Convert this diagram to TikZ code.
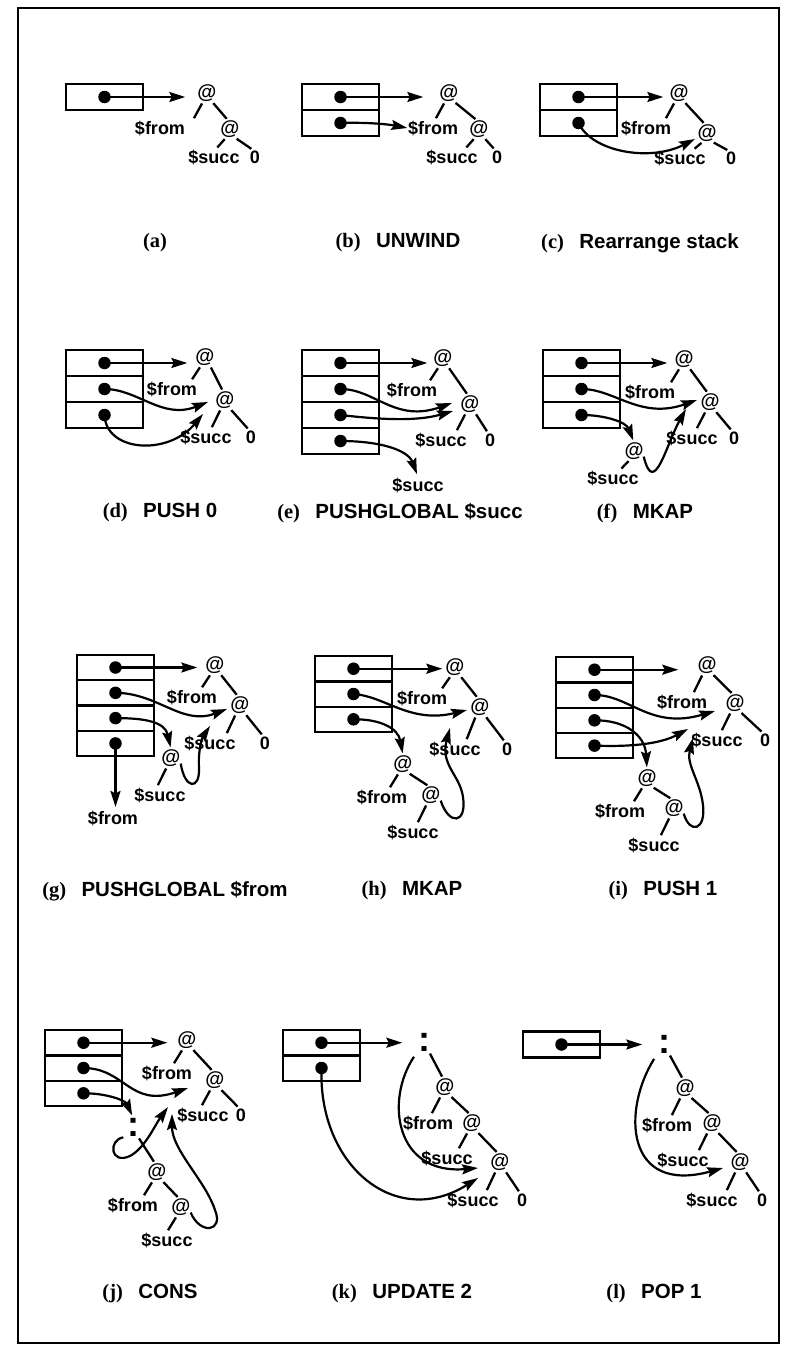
\documentclass[tikz,border=0pt]{standalone}
\usepackage{fontspec}
\setmainfont{Liberation Sans}
\newfontfamily\capserif{Liberation Serif}
\usetikzlibrary{arrows.meta,calc}
\newcommand\tlab{\fontsize{18}{20}\selectfont\bfseries}
\newcommand\tat{\fontsize{19.5}{20}\selectfont\bfseries}
\newcommand\tcap{\fontsize{20.5}{22}\selectfont\bfseries}
\newcommand\tcons{\fontsize{36}{36}\selectfont\bfseries}
\newcommand\TreeL[2]{\draw[tl] ($(#1.south)+(-4,0)$) -- ($(#2.north -| #1)+(-14,0)$);}
\newcommand\TreeR[2]{\draw[tl] ($(#1.south)+(5,0)$) -- ($(#2.north)+(-2,0)$);}
\newcommand\Cap[2]{{\capserif(#1)}\hspace{0.75em}#2}
\begin{document}
\begin{tikzpicture}[x=1pt,y=-1pt,
  lab/.style={font=\tlab, inner sep=0.5pt},
  atn/.style={font=\tat, inner sep=0pt},
  cons/.style={font=\tcons, inner sep=0.5pt},
  capn/.style={font=\tcap, inner sep=0pt},
  cell/.style={draw, line width=2.3pt, minimum width=77pt, minimum height=26pt, inner sep=0pt},
  cellb/.style={cell, minimum height=25.3pt},
  dotn/.style={circle, fill, inner sep=0pt, minimum size=12.5pt},
  ptr/.style={line width=2.2pt, -{Stealth[length=16pt,width=10pt,inset=2.5pt]}},
  tl/.style={line width=2.3pt, shorten <=2pt, shorten >=2pt}]
\useasboundingbox (0,0) rectangle (794,1349);
\draw[line width=2.3pt] (18,8) rectangle (779,1343);

% ---------- (a)
\node[cell] (ac1) at (104.5,97) {};
\node[dotn] (ad1) at (ac1) {};
\node[atn] (aA1) at (207,93) {@};
\node[lab] (aF) at (160,128) {\$from};
\node[atn] (aA2) at (230,129) {@};
\node[lab] (aS) at (214,157) {\$succ};
\node[lab] (aZ) at (255,157) {0};
\draw[ptr,shorten >=12pt] (ad1.center) -- (ad1.center -| aA1.west);
\TreeL{aA1}{aF} \TreeR{aA1}{aA2} \TreeL{aA2}{aS} \TreeR{aA2}{aZ}
\node[capn] (capA) at (155,243) {{\capserif(a)}};

% ---------- (b)
\node[cell] (bc1) at (340.5,97) {};
\node[cell] (bc2) at (340.5,123) {};
\node[dotn] (bd1) at (bc1) {};
\node[dotn] (bd2) at (bc2) {};
\node[atn] (bA1) at (449,93) {@};
\node[lab] (bF) at (433,128) {\$from};
\node[atn] (bA2) at (479,129) {@};
\node[lab] (bS) at (452,157) {\$succ};
\node[lab] (bZ) at (497,157) {0};
\draw[ptr,shorten >=16pt] (bd1.center) -- (bd1.center -| bA1.west);
\draw[ptr] (bd2.center) .. controls (372,122) and (392,125) .. (bF.west);
\TreeL{bA1}{bF} \TreeR{bA1}{bA2} \TreeL{bA2}{bS} \TreeR{bA2}{bZ}
\node[capn] (capB) at (398,243) {\Cap{b}{UNWIND}};

% ---------- (c)
\node[cell] (cc1) at (578.5,97) {};
\node[cell] (cc2) at (578.5,123) {};
\node[dotn] (cd1) at (cc1) {};
\node[dotn] (cd2) at (cc2) {};
\node[atn] (cA1) at (679,93) {@};
\node[lab] (cF) at (646,128) {\$from};
\node[atn] (cA2) at (707,133) {@};
\node[lab] (cS) at (680,158) {\$succ};
\node[lab] (cZ) at (731,158) {0};
\draw[ptr,shorten >=6pt] (cd1.center) -- (cd1.center -| cA1.west);
\coordinate (cT2) at (695,139);
\draw[ptr] (cd2.center) .. controls (592,152) and (650,162) .. (cT2);
\TreeL{cA1}{cF} \TreeR{cA1}{cA2} \TreeL{cA2}{cS} \TreeR{cA2}{cZ}
\node[capn] (capC) at (640,243) {\Cap{c}{Rearrange stack}};

% ---------- (d)
\node[cell] (dc1) at (104.5,363) {};
\node[cell] (dc2) at (104.5,389) {};
\node[cell] (dc3) at (104.5,415) {};
\node[dotn] (dd1) at (dc1) {};
\node[dotn] (dd2) at (dc2) {};
\node[dotn] (dd3) at (dc3) {};
\node[atn] (dA1) at (205,357) {@};
\node[lab] (dF) at (172,389) {\$from};
\node[atn] (dA2) at (225,400) {@};
\node[lab] (dS) at (206,437) {\$succ};
\node[lab] (dZ) at (251,437) {0};
\draw[ptr,shorten >=8pt] (dd1.center) -- (dd1.center -| dA1.west);
\coordinate (dT2) at (208,402);
\coordinate (dT3) at (203,414);
\draw[ptr] (dd2.center) .. controls (138,389) and (162,420) .. (dT2);
\draw[ptr] (dd3.center) .. controls (106,452) and (168,456) .. (dT3);
\TreeL{dA1}{dF} \TreeR{dA1}{dA2} \TreeL{dA2}{dS} \TreeR{dA2}{dZ}
\node[capn] (capD) at (160,513) {\Cap{d}{PUSH 0}};

% ---------- (e)
\node[cell] (ec1) at (340.5,363) {};
\node[cell] (ec2) at (340.5,389) {};
\node[cell] (ec3) at (340.5,415) {};
\node[cell] (ec4) at (340.5,441) {};
\node[dotn] (ed1) at (ec1) {};
\node[dotn] (ed2) at (ec2) {};
\node[dotn] (ed3) at (ec3) {};
\node[dotn] (ed4) at (ec4) {};
\node[atn] (eA1) at (443,358) {@};
\node[lab] (eF) at (412,390) {\$from};
\node[atn] (eA2) at (470,404) {@};
\node[lab] (eS) at (441,440) {\$succ};
\node[lab] (eZ) at (490,440) {0};
\node[lab] (eS2) at (418,485) {\$succ};
\draw[ptr,shorten >=6pt] (ed1.center) -- (ed1.center -| eA1.west);
\coordinate (eT2) at (452,403);
\coordinate (eT3) at (453,411);
\draw[ptr] (ed2.center) .. controls (375,389) and (395,423) .. (eT2);
\draw[ptr] (ed3.center) .. controls (375,419) and (415,422) .. (eT3);
\draw[ptr,shorten >=3pt] (ed4.center) .. controls (380,441) and (408,450) .. (eS2.north);
\TreeL{eA1}{eF} \TreeR{eA1}{eA2} \TreeL{eA2}{eS} \TreeR{eA2}{eZ}
\node[capn] (capE) at (400,513) {\Cap{e}{PUSHGLOBAL \$succ}};

% ---------- (f)
\node[cell] (fc1) at (581.5,363) {};
\node[cell] (fc2) at (581.5,389) {};
\node[cell] (fc3) at (581.5,415) {};
\node[dotn] (fd1) at (fc1) {};
\node[dotn] (fd2) at (fc2) {};
\node[dotn] (fd3) at (fc3) {};
\node[atn] (fA1) at (684,359) {@};
\node[lab] (fF) at (650,392) {\$from};
\node[atn] (fA2) at (710,402) {@};
\node[lab] (fS) at (692,438) {\$succ};
\node[lab] (fZ) at (734,438) {0};
\node[atn] (fA3) at (634,451) {@};
\node[lab] (fS2) at (613,478) {\$succ};
\draw[ptr,shorten >=7pt] (fd1.center) -- (fd1.center -| fA1.west);
\coordinate (fT2) at (697,400);
\coordinate (fT4) at (686,409);
\draw[ptr] (fd2.center) .. controls (615,389) and (640,420) .. (fT2);
\draw[ptr,shorten >=2pt] (fd3.center) .. controls (605,415) and (626,422) .. (fA3.north);
\draw[ptr] (fA3.330) .. controls (654,498) and (666,445) .. (fT4);
\TreeL{fA1}{fF} \TreeR{fA1}{fA2} \TreeL{fA2}{fS} \TreeR{fA2}{fZ}
\TreeL{fA3}{fS2}
\node[capn] (capF) at (645,513) {\Cap{f}{MKAP}};

% ---------- (g)
\node[cellb] (gc1) at (115.5,667.5) {};
\node[cellb] (gc2) at (115.5,692.8) {};
\node[cellb] (gc3) at (115.5,718.1) {};
\node[cellb] (gc4) at (115.5,743.4) {};
\node[dotn] (gd1) at (gc1) {};
\node[dotn] (gd2) at (gc2) {};
\node[dotn] (gd3) at (gc3) {};
\node[dotn] (gd4) at (gc4) {};
\node[atn] (gA1) at (215,665) {@};
\node[lab] (gF) at (192,697) {\$from};
\node[atn] (gA2) at (240,705) {@};
\node[lab] (gS) at (210,743) {\$succ};
\node[lab] (gZ) at (265,743) {0};
\node[atn] (gA3) at (171,758) {@};
\node[lab] (gS2) at (160,795) {\$succ};
\node[lab] (gF2) at (113,818) {\$from};
\draw[ptr,shorten >=8pt] (gd1.center) -- (gd1.center -| gA1.west);
\coordinate (gT2) at (227,709);
\coordinate (gT4) at (210,726);
\draw[ptr] (gd2.center) .. controls (158,693) and (182,726) .. (gT2);
\draw[ptr,shorten >=2pt] (gd3.center) .. controls (145,718) and (165,722) .. (gA3.north);
\draw[ptr] (gA3.330) .. controls (185,790) and (200,790) .. (199,768) .. controls (198,750) and (202,738) .. (gT4);
\draw[ptr,shorten >=3pt] (gd4.center) -- (gd4.center |- gF2.north);
\TreeL{gA1}{gF} \TreeR{gA1}{gA2} \TreeL{gA2}{gS} \TreeR{gA2}{gZ}
\TreeL{gA3}{gS2}
\node[capn] (capG) at (165,891) {\Cap{g}{PUSHGLOBAL \$from}};

% ---------- (h)
\node[cellb] (hc1) at (353.5,668.7) {};
\node[cellb] (hc2) at (353.5,694) {};
\node[cellb] (hc3) at (353.5,719.3) {};
\node[dotn] (hd1) at (hc1) {};
\node[dotn] (hd2) at (hc2) {};
\node[dotn] (hd3) at (hc3) {};
\node[atn] (hA1) at (455,667) {@};
\node[lab] (hF) at (422,698) {\$from};
\node[atn] (hA2) at (480,707) {@};
\node[lab] (hS) at (455,749) {\$succ};
\node[lab] (hZ) at (507,749) {0};
\node[atn] (hA3) at (403,764) {@};
\node[lab] (hF2) at (382,797) {\$from};
\node[atn] (hA4) at (431,795) {@};
\node[lab] (hS2) at (413,832) {\$succ};
\draw[ptr,shorten >=3pt] (hd1.center) -- (hd1.center -| hA1.west);
\coordinate (hT2) at (467,710);
\coordinate (hT4) at (450,728);
\draw[ptr] (hd2.center) .. controls (385,696) and (410,724) .. (hT2);
\draw[ptr,shorten >=2pt] (hd3.center) .. controls (380,719) and (398,728) .. (hA3.north);
\draw[ptr] (hA4.330) .. controls (449,826) and (467,824) .. (463,797) .. controls (460,775) and (440,765) .. (hT4);
\TreeL{hA1}{hF} \TreeR{hA1}{hA2} \TreeL{hA2}{hS} \TreeR{hA2}{hZ}
\TreeL{hA3}{hF2} \TreeR{hA3}{hA4} \TreeL{hA4}{hS2}
\node[capn] (capH) at (412,891) {\Cap{h}{MKAP}};

% ---------- (i)
\node[cellb] (ic1) at (594.5,669.7) {};
\node[cellb] (ic2) at (594.5,695) {};
\node[cellb] (ic3) at (594.5,720.3) {};
\node[cellb] (ic4) at (594.5,745.6) {};
\node[dotn] (id1) at (ic1) {};
\node[dotn] (id2) at (ic2) {};
\node[dotn] (id3) at (ic3) {};
\node[dotn] (id4) at (ic4) {};
\node[atn] (iA1) at (707,665) {@};
\node[lab] (iF) at (682,702) {\$from};
\node[atn] (iA2) at (735,703) {@};
\node[lab] (iS) at (717,740) {\$succ};
\node[lab] (iZ) at (765,740) {0};
\node[atn] (iA3) at (647,778) {@};
\node[lab] (iF2) at (620,811) {\$from};
\node[atn] (iA4) at (674,808) {@};
\node[lab] (iS2) at (654,845) {\$succ};
\draw[ptr,shorten >=19pt] (id1.center) -- (id1.center -| iA1.west);
\coordinate (iT2) at (715,711);
\coordinate (iT4) at (688,729);
\coordinate (iT5) at (693,738);
\draw[ptr] (id2.center) .. controls (630,695) and (650,730) .. (iT2);
\draw[ptr,shorten >=2pt] (id3.center) .. controls (625,720) and (645,735) .. (iA3.north);
\draw[ptr] (id4.center) .. controls (630,747) and (660,744) .. (iT4);
\draw[ptr] (iA4.330) .. controls (690,835) and (706,830) .. (703,805) .. controls (700,780) and (686,765) .. (iT5);
\TreeL{iA1}{iF} \TreeR{iA1}{iA2} \TreeL{iA2}{iS} \TreeR{iA2}{iZ}
\TreeL{iA3}{iF2} \TreeR{iA3}{iA4} \TreeL{iA4}{iS2}
\node[capn] (capI) at (663,891) {\Cap{i}{PUSH 1}};

% ---------- (j)
\node[cellb] (jc1) at (83.5,1042.7) {};
\node[cellb] (jc2) at (83.5,1068) {};
\node[cellb] (jc3) at (83.5,1093.3) {};
\node[dotn] (jd1) at (jc1) {};
\node[dotn] (jd2) at (jc2) {};
\node[dotn] (jd3) at (jc3) {};
\node[atn] (jA1) at (187,1040) {@};
\node[lab] (jF) at (167,1073) {\$from};
\node[atn] (jA2) at (215,1080) {@};
\node[lab] (jS) at (203,1115) {\$succ};
\node[lab] (jZ) at (241,1115) {0};
\node[cons] (jC) at (133,1127) {:};
\node[atn] (jA3) at (157,1172) {@};
\node[lab] (jF2) at (133,1205) {\$from};
\node[atn] (jA4) at (181,1207) {@};
\node[lab] (jS2) at (167,1240) {\$succ};
\draw[ptr,shorten >=10pt] (jd1.center) -- (jd1.center -| jA1.west);
\coordinate (jT2) at (188,1088);
\coordinate (jT4) at (168,1107);
\coordinate (jT5) at (172,1114);
\draw[ptr] (jd2.center) .. controls (125,1068) and (130,1108) .. (jT2);
\draw[ptr,shorten >=2pt] (jd3.center) .. controls (105,1093) and (125,1100) .. (jC.north);
\draw[ptr,shorten <=3pt] (jC.south west) .. controls (108,1140) and (110,1165) .. (130,1156) .. controls (145,1148) and (155,1125) .. (jT4);
\draw[ptr] (jA4.330) .. controls (200,1235) and (224,1232) .. (215,1210) .. controls (205,1180) and (172,1150) .. (jT5);
\TreeL{jA1}{jF} \TreeR{jA1}{jA2} \TreeL{jA2}{jS} \TreeR{jA2}{jZ}
\TreeR{jC}{jA3} \TreeL{jA3}{jF2} \TreeR{jA3}{jA4} \TreeL{jA4}{jS2}
\node[capn] (capJ) at (150,1294) {\Cap{j}{CONS}};

% ---------- (k)
\node[cellb] (kc1) at (321.5,1042.7) {};
\node[cellb] (kc2) at (321.5,1068) {};
\node[dotn] (kd1) at (kc1) {};
\node[dotn] (kd2) at (kc2) {};
\node[cons] (kC) at (424,1042) {:};
\node[atn] (kA1) at (445,1087) {@};
\node[lab] (kF) at (428,1123) {\$from};
\node[atn] (kA2) at (472,1123) {@};
\node[lab] (kS) at (447,1158) {\$succ};
\node[atn] (kA3) at (500,1162) {@};
\node[lab] (kS2) at (473,1200) {\$succ};
\node[lab] (kZ) at (522,1200) {0};
\draw[ptr,shorten >=15pt] (kd1.center) -- (kd1.center -| kC.west);
\coordinate (kT1) at (478,1168);
\coordinate (kT2) at (478,1178);
\draw[ptr,shorten <=6pt] (kC.south west) .. controls (385,1100) and (395,1175) .. (kT1);
\draw[ptr] (kd2.center) .. controls (318,1165) and (395,1230) .. (kT2);
\TreeR{kC}{kA1} \TreeL{kA1}{kF} \TreeR{kA1}{kA2} \TreeL{kA2}{kS} \TreeR{kA2}{kA3}
\TreeL{kA3}{kS2} \TreeR{kA3}{kZ}
\node[capn] (capK) at (402,1294) {\Cap{k}{UPDATE 2}};

% ---------- (l)
\node[cell] (lc1) at (561.5,1044.5) {};
\node[dotn] (ld1) at (lc1) {};
\node[cons] (lC) at (664,1044) {:};
\node[atn] (lA1) at (685,1088) {@};
\node[lab] (lF) at (667,1125) {\$from};
\node[atn] (lA2) at (712,1123) {@};
\node[lab] (lS) at (683,1160) {\$succ};
\node[atn] (lA3) at (740,1162) {@};
\node[lab] (lS2) at (712,1200) {\$succ};
\node[lab] (lZ) at (762,1200) {0};
\draw[ptr,shorten >=15pt] (ld1.center) -- (ld1.center -| lC.west);
\coordinate (lT1) at (723,1168);
\draw[ptr,shorten <=6pt] (lC.south west) .. controls (622,1110) and (625,1195) .. (lT1);
\TreeR{lC}{lA1} \TreeL{lA1}{lF} \TreeR{lA1}{lA2} \TreeL{lA2}{lS} \TreeR{lA2}{lA3}
\TreeL{lA3}{lS2} \TreeR{lA3}{lZ}
\node[capn] (capL) at (654,1294) {\Cap{l}{POP 1}};
\end{tikzpicture}
\end{document}
